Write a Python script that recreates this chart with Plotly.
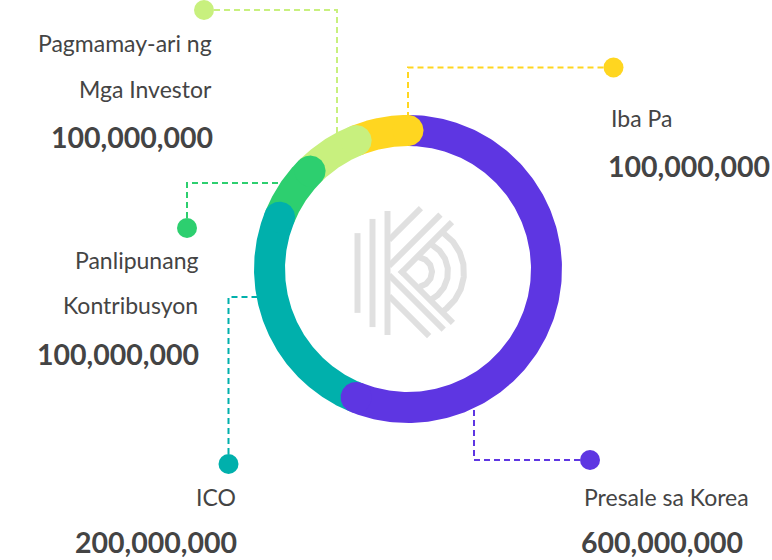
import numpy as np
import plotly.graph_objects as go

# ---------------- data ----------------
labels = ["Presale sa Korea", "ICO", "Panlipunang Kontribusyon",
          "Pagmamay-ari ng Mga Investor", "Iba Pa"]
label_lines = [["Presale sa Korea"], ["ICO"], ["Panlipunang", "Kontribusyon"],
               ["Pagmamay-ari ng", "Mga Investor"], ["Iba Pa"]]
values = [600000000, 200000000, 100000000, 100000000, 100000000]
# share of the ring (degrees) each segment occupies in the picture
arc_deg = [202, 90, 23, 23, 22]
colors = ["#5E36E2", "#00B0AC", "#2DCF6F", "#C8F07E", "#FFD620"]

# ---------------- layout constants ----------------
W, H = 772, 560
CX, CY = 408, 269          # ring centre (px)
R_OUT, R_IN = 154, 123
R_MID = (R_OUT + R_IN) / 2
HALF_T = (R_OUT - R_IN) / 2
TEXT = "#444444"
FONT = "Lato"

def pt(r, deg):
    a = np.radians(deg)
    return CX + r * np.sin(a), CY - r * np.cos(a)

fig = go.Figure()

# ---------------- callouts (dashed connectors + dots) ----------------
callouts = [
    dict(dot=(590, 460), corner=(474, 460), ring_leg="v"),      # Presale
    dict(dot=(228.5, 464), corner=(228.5, 297), ring_leg="h"),  # ICO
    dict(dot=(187, 228), corner=(187, 183), ring_leg="h"),      # Panlipunang
    dict(dot=(204, 10), corner=(337, 10), ring_leg="v"),        # Pagmamay-ari
    dict(dot=(613.5, 67.5), corner=(408, 67.5), ring_leg="v"),  # Iba Pa
]
for c, col in zip(callouts, colors):
    (dx, dy), (ex, ey) = c["dot"], c["corner"]
    if c["ring_leg"] == "v":
        s = np.sign(CY - ey)
        ry = CY - s * np.sqrt(max(R_MID**2 - (ex - CX)**2, 0))
        xs, ys = [dx, ex, ex], [dy, ey, ry]
    else:
        s = np.sign(CX - ex)
        rx = CX - s * np.sqrt(max(R_MID**2 - (ey - CY)**2, 0))
        xs, ys = [dx, ex, rx], [dy, ey, ey]
    fig.add_trace(go.Scatter(x=xs, y=ys, mode="lines",
                             line=dict(color=col, width=2, dash="6px,4px"),
                             hoverinfo="skip"))
    fig.add_trace(go.Scatter(x=[dx], y=[dy], mode="markers",
                             marker=dict(color=col, size=20, line=dict(width=0)),
                             hoverinfo="skip"))

# ---------------- centre logo (decorative) ----------------
LC, LR = (410, 273), 66
LOGO = "#E0E0E0"
STEM_X = 391
C_UP = [629, 655]      # upper K arms: x + y = c
D_LO = [-114, -93]     # lower K arms: y - x = d
CHEV = (674, -130)     # inner chevron bounding the arcs
DC = (417, 272)

def inside_clip(xs, ys):
    return (xs - LC[0])**2 + (ys - LC[1])**2 <= LR**2

lx, ly = [], []
def add(xs, ys, extra=None):
    xs = np.asarray(xs, float); ys = np.asarray(ys, float)
    m = inside_clip(xs, ys)
    if extra is not None:
        m &= extra
    lx.extend(list(np.where(m, xs, np.nan)) + [np.nan])
    ly.extend(list(np.where(m, ys, np.nan)) + [np.nan])

for bx in [357.5, 372.5, 387.5]:
    yy = np.linspace(LC[1] - LR, LC[1] + LR, 400)
    add(np.full_like(yy, bx), yy)
xx = np.linspace(STEM_X - 2, 480, 500)
for c in C_UP:
    add(xx, c - xx)
for d in D_LO:
    add(xx, xx + d)
# chevron: vertex where the two lines meet
vx = (CHEV[0] - CHEV[1]) / 2
xc = np.linspace(vx - 2, 480, 500)
add(xc, CHEV[0] - xc, extra=(xc >= vx - 2))
add(xc, xc + CHEV[1], extra=(xc >= vx - 2))
for r in [15, 31, 47]:
    ph = np.radians(np.linspace(-180, 180, 720))
    ax, ay = DC[0] + r * np.cos(ph), DC[1] + r * np.sin(ph)
    add(ax, ay, extra=(ax + ay >= CHEV[0] + 2) & (ay - ax <= CHEV[1] - 2))
fig.add_trace(go.Scatter(x=lx, y=ly, mode="lines", line=dict(color=LOGO, width=6),
                         hoverinfo="skip", connectgaps=False))

# ---------------- ring ----------------
starts = np.concatenate([[0], np.cumsum(arc_deg)[:-1]])
for a0, span, col, lab in zip(starts, arc_deg, colors, labels):
    a = np.linspace(a0, a0 + span, 200)
    ox, oy = pt(R_OUT, a)
    ix, iy = pt(R_IN, a[::-1])
    fig.add_trace(go.Scatter(x=np.concatenate([ox, ix]), y=np.concatenate([oy, iy]),
                             mode="lines", fill="toself", fillcolor=col,
                             line=dict(width=0, color=col), name=lab,
                             hoverinfo="skip"))
for a0, span, col in zip(starts, arc_deg, colors):
    ex, ey = pt(R_MID, a0 + span)
    t = np.linspace(0, 2 * np.pi, 120)
    fig.add_trace(go.Scatter(x=ex + HALF_T * np.cos(t), y=ey + HALF_T * np.sin(t),
                             mode="lines", fill="toself", fillcolor=col,
                             line=dict(width=0, color=col), hoverinfo="skip"))

# ---------------- labels ----------------
text_pos = [  # anchor x, side, y of each text line, y of number
    dict(x=582, side="left", lines=[497], num=542),
    dict(x=238, side="right", lines=[497], num=542),
    dict(x=199.5, side="right", lines=[260, 304.5], num=353.5),
    dict(x=213.5, side="right", lines=[42.5, 88.5], num=137),
    dict(x=609, side="left", lines=[117.5], num=165.5),
]
for tp, lines, v in zip(text_pos, label_lines, values):
    for ln, yy in zip(lines, tp["lines"]):
        fig.add_annotation(x=tp["x"], y=yy, text=ln, showarrow=False,
                           xanchor=tp["side"], yanchor="middle",
                           font=dict(family=FONT, size=23, color=TEXT))
    fig.add_annotation(x=tp["x"] - (3 if tp["side"] == "left" else -1), y=tp["num"],
                       text=f"<b>{v:,}</b>", showarrow=False,
                       xanchor=tp["side"], yanchor="middle",
                       font=dict(family=FONT, size=28.5, color=TEXT))

fig.update_layout(
    width=W, height=H, margin=dict(l=0, r=0, t=0, b=0),
    paper_bgcolor="white", plot_bgcolor="white", showlegend=False,
    xaxis=dict(range=[0, W], visible=False, fixedrange=True),
    yaxis=dict(range=[H, 0], visible=False, fixedrange=True),
)
fig.write_html("out.html")
